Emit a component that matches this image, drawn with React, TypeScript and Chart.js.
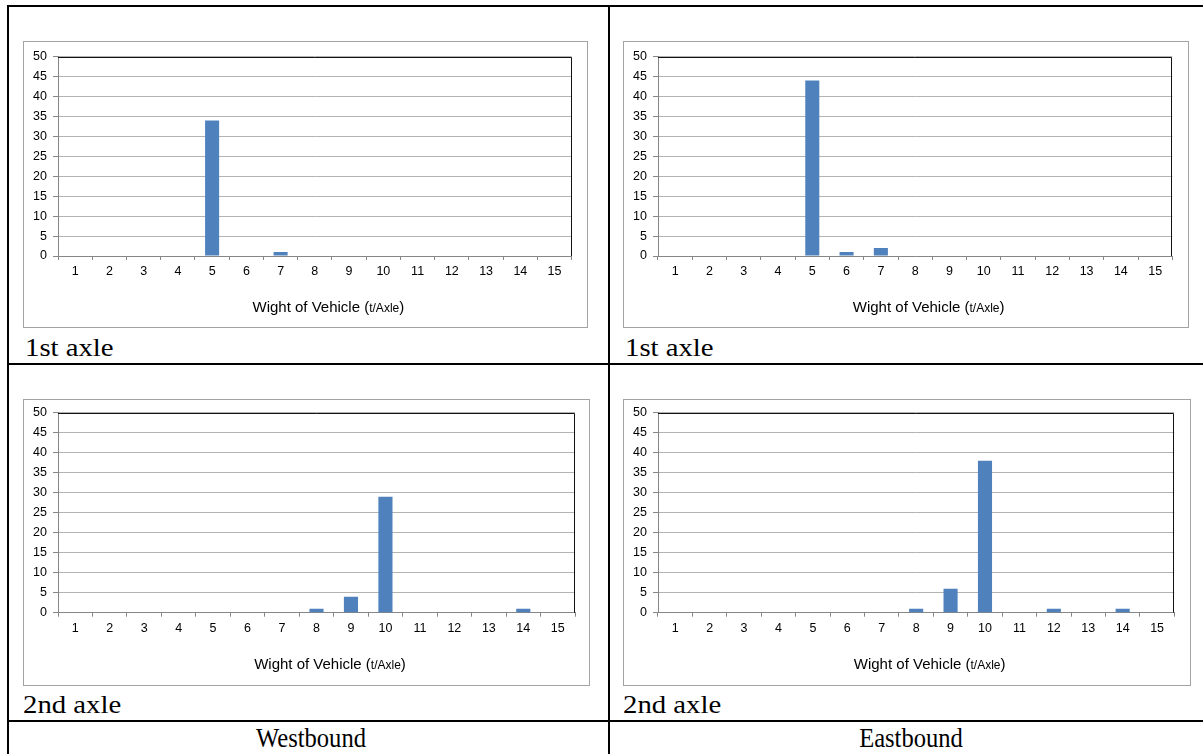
import React, { useEffect, useRef } from 'react';
import { Chart, registerables } from 'chart.js';

Chart.register(...registerables);

// ---- data ----
const weightLabels = ['1', '2', '3', '4', '5', '6', '7', '8', '9', '10', '11', '12', '13', '14', '15'];
const westbound1stAxle = [0, 0, 0, 0, 34, 0, 1, 0, 0, 0, 0, 0, 0, 0, 0];
const eastbound1stAxle = [0, 0, 0, 0, 44, 1, 2, 0, 0, 0, 0, 0, 0, 0, 0];
const westbound2ndAxle = [0, 0, 0, 0, 0, 0, 0, 1, 4, 29, 0, 0, 0, 1, 0];
const eastbound2ndAxle = [0, 0, 0, 0, 0, 0, 0, 1, 6, 38, 0, 1, 0, 1, 0];
const yMin = 0;
const yMax = 50;
const yStep = 5;
const titleMain = 'Wight of Vehicle (';
const titleUnit = 't/Axle';
const titleEnd = ')';

const SANS = '"Liberation Sans", Arial, sans-serif';
const SERIF = '"Liberation Serif", "Times New Roman", serif';
const BAR = '#4f81bd';
const AXIS = '#868686';
const GRID = '#b3b3b3';

type PanelProps = {
  left: number;
  top: number;
  width: number;
  height: number;
  padTop: number;
  padRight: number;
  bottomH: number;
  values: number[];
};

function Panel({ left, top, width, height, padTop, padRight, bottomH, values }: PanelProps) {
  const ref = useRef<HTMLCanvasElement | null>(null);
  useEffect(() => {
    if (!ref.current) return;
    const framePlugin = {
      id: 'excelFrame',
      beforeDraw(chart: any) {
        const { ctx, width: w, height: h } = chart;
        ctx.save();
        ctx.fillStyle = '#ffffff';
        ctx.fillRect(0, 0, w, h);
        ctx.strokeStyle = '#a3a3a3';
        ctx.lineWidth = 1;
        ctx.strokeRect(0.5, 0.5, w - 1, h - 1);
        ctx.restore();
      },
      afterDatasetsDraw(chart: any) {
        const { ctx, chartArea } = chart;
        const { left: l, top: t, right: r, bottom: b } = chartArea;
        ctx.save();
        ctx.strokeStyle = '#111';
        ctx.lineWidth = 1;
        const ty = Math.round(t) + 0.5;
        const rx = Math.round(r) - 0.5;
        ctx.beginPath();
        ctx.moveTo(l, ty);
        ctx.lineTo(rx, ty);
        ctx.lineTo(rx, b);
        ctx.stroke();
        // axis title with smaller unit text
        const bigFont = `15px ${SANS}`;
        const smallFont = `12px ${SANS}`;
        ctx.font = bigFont;
        const w1 = ctx.measureText(titleMain).width;
        const w3 = ctx.measureText(titleEnd).width;
        ctx.font = smallFont;
        const w2 = ctx.measureText(titleUnit).width;
        const total = w1 + w2 + w3;
        const cx = (l + r) / 2 + 13.5;
        const y = b + 56.3;
        let x = cx - total / 2;
        ctx.fillStyle = '#000';
        ctx.textBaseline = 'alphabetic';
        ctx.textAlign = 'left';
        ctx.font = bigFont;
        ctx.fillText(titleMain, x, y);
        x += w1;
        ctx.font = smallFont;
        ctx.fillText(titleUnit, x, y);
        x += w2;
        ctx.font = bigFont;
        ctx.fillText(titleEnd, x, y);
        ctx.restore();
      },
    };
    const chart = new Chart(ref.current, {
      type: 'bar',
      data: {
        labels: weightLabels,
        datasets: [
          {
            data: values,
            backgroundColor: BAR,
            borderWidth: 0,
            barPercentage: 0.41,
            categoryPercentage: 1,
          },
        ],
      },
      options: {
        animation: false,
        responsive: true,
        maintainAspectRatio: false,
        devicePixelRatio: 1,
        layout: { padding: { top: padTop, right: padRight, left: 0, bottom: 0 } },
        plugins: { legend: { display: false }, tooltip: { enabled: false }, title: { display: false } },
        scales: {
          x: {
            grid: {
              display: true,
              drawOnChartArea: false,
              drawTicks: true,
              tickLength: 4,
              color: AXIS,
              offset: true,
            },
            border: { display: true, color: AXIS, width: 1 },
            ticks: {
              color: '#000',
              font: { family: SANS, size: 12.5 },
              padding: 4,
              maxRotation: 0,
              autoSkip: false,
            },
            afterFit: (s: any) => {
              s.height = bottomH;
            },
          },
          y: {
            min: yMin,
            max: yMax,
            ticks: {
              stepSize: yStep,
              color: '#000',
              font: { family: SANS, size: 12.5 },
              padding: 6,
            },
            grid: {
              color: GRID,
              tickColor: AXIS,
              tickLength: 5,
              lineWidth: 1,
            },
            border: { display: true, color: AXIS, width: 1 },
            afterFit: (s: any) => {
              s.width = 35;
            },
          },
        },
      },
      plugins: [framePlugin],
    } as any);
    return () => chart.destroy();
  }, [values, padTop, padRight, bottomH]);

  return (
    <div style={{ position: 'absolute', left, top, width, height }}>
      <canvas ref={ref} />
    </div>
  );
}

const lineStyle = (l: number, t: number, w: number, h: number): React.CSSProperties => ({
  position: 'absolute',
  left: l,
  top: t,
  width: w,
  height: h,
  background: '#000',
});

function AxleLabel({ text, left, top }: { text: string; left: number; top: number }) {
  return (
    <div
      style={{
        position: 'absolute',
        left,
        top,
        fontFamily: SERIF,
        fontSize: 25,
        lineHeight: 1,
        whiteSpace: 'nowrap',
        transform: 'scaleX(1.15)',
        transformOrigin: 'left top',
        color: '#000',
      }}
    >
      {text}
    </div>
  );
}

function DirLabel({ text, center, top }: { text: string; center: number; top: number }) {
  return (
    <div
      style={{
        position: 'absolute',
        left: center - 150,
        width: 300,
        top,
        textAlign: 'center',
        fontFamily: SERIF,
        fontSize: 27,
        lineHeight: 1,
        whiteSpace: 'nowrap',
        transform: 'scaleX(0.91)',
        transformOrigin: 'center top',
        color: '#000',
      }}
    >
      {text}
    </div>
  );
}

export default function App() {
  return (
    <div
      style={{
        position: 'fixed',
        left: 0,
        top: 0,
        width: 1203,
        height: 754,
        overflow: 'hidden',
        background: '#fff',
      }}
    >
      {/* table lines */}
      <div style={lineStyle(7, 5, 1220, 2)} />
      <div style={lineStyle(7, 5, 2, 760)} />
      <div style={lineStyle(608, 5, 2, 760)} />
      <div style={lineStyle(7, 363, 1220, 2)} />
      <div style={lineStyle(7, 720, 1220, 2)} />

      <Panel left={23} top={41} width={565} height={287} padTop={15.7} padRight={16.3} bottomH={72} values={westbound1stAxle} />
      <Panel left={623} top={41} width={566} height={287} padTop={15.7} padRight={16.7} bottomH={72} values={eastbound1stAxle} />
      <Panel left={23} top={399} width={567} height={287} padTop={13.7} padRight={15} bottomH={73.3} values={westbound2ndAxle} />
      <Panel left={623} top={399} width={568} height={287} padTop={13.7} padRight={16.7} bottomH={73.3} values={eastbound2ndAxle} />

      <AxleLabel text="1st axle" left={25} top={334.6} />
      <AxleLabel text="1st axle" left={625} top={334.6} />
      <AxleLabel text="2nd axle" left={22.7} top={691.6} />
      <AxleLabel text="2nd axle" left={623} top={691.6} />

      <DirLabel text="Westbound" center={311} top={724.7} />
      <DirLabel text="Eastbound" center={910.5} top={724.7} />
    </div>
  );
}
